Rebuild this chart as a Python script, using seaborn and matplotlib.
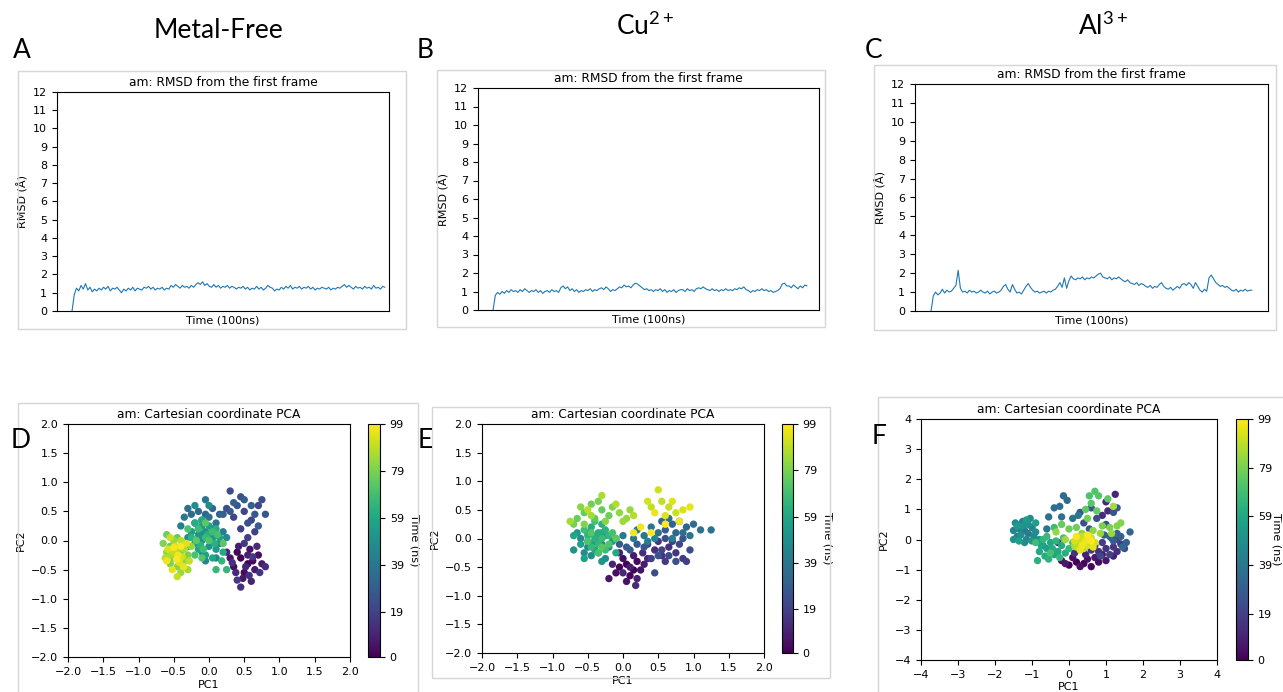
import numpy as np
import pandas as pd
import matplotlib
matplotlib.use("Agg")
import matplotlib.pyplot as plt
import seaborn as sns
from matplotlib.patches import Rectangle

# Style close to plain matplotlib output
sns.set_style("ticks", {"axes.edgecolor": "black", "xtick.color": "black",
                        "ytick.color": "black", "text.color": "black",
                        "axes.labelcolor": "black"})
plt.rcParams['font.family'] = ['DejaVu Sans']
plt.rcParams['mathtext.fontset'] = 'custom'
plt.rcParams['mathtext.rm'] = 'Lato'
plt.rcParams['xtick.major.size'] = 3.5
plt.rcParams['ytick.major.size'] = 3.5
plt.rcParams['axes.linewidth'] = 0.8

# ---------------- data ----------------
conditions = ["Metal-Free", "Cu$^{2+}$", "Al$^{3+}$"]
panel_letters = ["A", "B", "C", "D", "E", "F"]
cbar_ticks = [0, 19, 39, 59, 79, 99]

rmsd_free = [
    0.0, 0.9, 1.25, 1.1, 1.4, 1.2, 1.5, 1.15, 1.3, 1.05, 1.2, 1.1,
    1.25, 1.15, 1.3, 1.2, 1.35, 1.1, 1.25, 1.2, 1.3, 1.15,
    1.0, 1.2, 1.1, 1.25, 1.15, 1.3, 1.1, 1.25, 1.2, 1.15,
    1.3, 1.25, 1.35, 1.2, 1.3, 1.15, 1.25, 1.2, 1.3, 1.15, 1.25, 1.2,
    1.4, 1.3, 1.45, 1.35, 1.25, 1.4, 1.3, 1.35, 1.25, 1.4, 1.3, 1.45,
    1.55, 1.45, 1.6, 1.4, 1.5,
    1.35, 1.3, 1.45, 1.3, 1.4, 1.25, 1.35, 1.3, 1.4, 1.25, 1.35, 1.3, 1.2, 1.3, 1.25, 1.35, 1.2, 1.3,
    1.15, 1.25, 1.2, 1.35, 1.2, 1.3, 1.15, 1.25, 1.4, 1.3, 1.25,
    1.1, 1.2, 1.15,
    1.3, 1.2, 1.35, 1.25, 1.4, 1.2, 1.3, 1.25, 1.35, 1.2, 1.3, 1.25, 1.35, 1.2, 1.3, 1.15, 1.25, 1.2, 1.3, 1.25,
    1.2, 1.3, 1.15, 1.25, 1.2, 1.3, 1.25, 1.35, 1.45, 1.3, 1.4,
    1.3, 1.2, 1.35, 1.25, 1.3, 1.2, 1.35, 1.25, 1.3, 1.2, 1.4, 1.25, 1.3, 1.2, 1.35, 1.3]

rmsd_cu = [
    0.0, 0.8, 0.95, 0.85, 1.0, 0.9, 1.05, 0.95,
    1.1, 1.0, 1.05, 0.95, 1.1, 1.0, 1.15, 1.05, 0.95, 1.05, 1.0, 1.1, 0.95, 1.05, 0.9, 1.0, 1.05, 0.95, 1.1, 1.0, 1.05, 0.95,
    1.2, 1.3, 1.15, 1.25,
    1.05, 1.15, 1.0, 1.1, 0.95, 1.05, 1.0, 1.1, 1.05, 1.15, 1.0, 1.1, 1.05, 1.15,
    1.2, 1.1, 1.25, 1.15,
    1.0, 1.1, 1.05, 1.15,
    1.25, 1.2, 1.35, 1.25, 1.3, 1.2, 1.35,
    1.45, 1.4, 1.3,
    1.2, 1.1, 1.15, 1.05, 1.1, 1.0, 1.1, 1.05, 1.15, 1.0, 1.1, 0.95, 1.05, 1.0, 1.1, 0.95, 1.05, 1.1,
    1.1, 1.0, 1.15, 1.05, 1.1, 1.0, 1.15,
    1.2, 1.15, 1.25, 1.15,
    1.1, 1.05, 1.15, 1.05, 1.1, 1.0, 1.1, 1.05, 1.15, 1.05, 1.1, 1.05, 1.15, 1.1,
    1.2, 1.15, 1.25, 1.1,
    1.05, 0.95, 1.05, 1.0,
    1.1, 1.05, 1.15, 1.05, 1.1, 1.0, 1.05,
    0.95, 1.0, 1.05, 1.15,
    1.4, 1.45, 1.3,
    1.3, 1.2, 1.35, 1.25, 1.15, 1.3, 1.2, 1.35, 1.3]

rmsd_al = [
    0.0, 0.8, 1.0, 0.85, 0.95,
    1.15, 0.95, 1.1, 1.0, 1.05, 1.2,
    1.35, 2.15, 1.2,
    1.0, 1.05, 0.95, 1.1, 1.0, 1.05, 0.95, 1.0, 1.1, 1.0,
    0.95, 1.05, 0.9, 1.0, 1.05, 0.95, 1.0, 1.1,
    1.3, 1.4, 1.15,
    1.0, 1.4, 1.15,
    0.95, 1.0, 0.9, 1.1,
    1.3, 1.45, 1.25,
    1.1, 1.0, 1.05, 0.95, 1.0, 1.05, 0.95, 1.05, 1.0, 1.1, 1.15,
    1.3, 1.5, 1.25,
    1.75, 1.2, 1.6, 1.85,
    1.7, 1.65, 1.75, 1.7, 1.8, 1.65, 1.75, 1.7, 1.8, 1.75, 1.85,
    1.95, 2.0, 1.8,
    1.75, 1.7, 1.8, 1.65, 1.75, 1.7, 1.8, 1.7,
    1.6, 1.55, 1.65, 1.5,
    1.45, 1.4, 1.5, 1.35, 1.45, 1.4,
    1.3, 1.25, 1.35, 1.2, 1.3, 1.25,
    1.4, 1.5, 1.3,
    1.2, 1.15, 1.25, 1.1, 1.2, 1.3, 1.2,
    1.4, 1.45, 1.35, 1.5, 1.4, 1.2,
    1.5, 1.3, 1.1,
    1.0, 1.15, 1.05,
    1.75, 1.9, 1.7,
    1.5, 1.4, 1.3,
    1.35, 1.25, 1.3, 1.2,
    1.1, 1.05, 1.15, 1.0, 1.1, 1.05, 1.15, 1.05, 1.1, 1.1]

# PCA projections, listed in time order (frame 0 -> 99 ns)
pca_free = [
    # early frames
    (0.45, -0.30), (0.55, -0.40), (0.40, -0.20), (0.62, -0.35), (0.50, -0.55), (0.35, -0.45),
    (0.70, -0.25), (0.58, -0.15), (0.30, -0.30), (0.48, -0.65), (0.65, -0.50), (0.75, -0.40),
    (0.42, -0.10), (0.55, -0.25), (0.25, -0.20), (0.60, -0.70), (0.52, -0.45), (0.38, -0.55),
    (0.68, -0.10), (0.80, -0.45), (0.45, -0.80), (0.57, -0.60), (0.33, -0.38), (0.72, -0.55),
    (0.50, -0.05), (0.62, -0.28), (0.40, -0.68),
    (0.55, 0.05), (0.45, 0.20), (0.65, 0.15), (0.35, 0.40), (0.50, 0.50), (0.70, 0.60),
    (0.60, 0.35), (0.30, 0.85), (0.25, 0.55), (0.75, 0.70), (0.45, 0.75), (0.55, 0.30),
    (0.40, 0.60), (0.80, 0.45), (0.65, 0.45), (0.30, 0.50), (0.50, 0.70), (0.70, 0.25),
    (0.20, 0.45), (0.60, 0.60), (0.35, 0.65),
    (0.15, 0.45), (0.05, 0.55), (-0.05, 0.45), (-0.15, 0.50), (-0.25, 0.45), (-0.30, 0.55),
    (-0.10, 0.35), (0.00, 0.40), (-0.20, 0.30), (0.10, 0.30), (-0.05, 0.70), (-0.35, 0.40),
    (-0.15, 0.20), (0.05, 0.20), (-0.25, 0.15), (0.20, 0.15), (-0.40, 0.25), (0.15, -0.05),
    (0.10, -0.30), (-0.05, -0.35), (-0.10, 0.10), (0.05, 0.05), (-0.30, 0.05), (0.25, 0.05),
    (0.00, 0.60), (-0.20, 0.60), (-0.10, -0.20),
    (-0.10, 0.00), (-0.05, 0.15), (0.00, -0.10), (-0.15, 0.10), (-0.20, -0.05), (0.05, 0.05),
    (-0.10, 0.25), (0.10, -0.15), (-0.25, 0.15), (0.00, 0.25), (-0.05, -0.25), (0.15, 0.05),
    (-0.15, -0.15), (-0.30, -0.10), (0.05, -0.30), (0.20, -0.20), (-0.10, 0.35), (0.10, 0.20),
    (-0.20, 0.30), (-0.02, 0.10), (0.08, -0.05), (-0.12, -0.08), (-0.25, 0.05), (0.18, -0.35),
    (0.25, -0.50), (0.10, -0.50), (-0.05, 0.05), (-0.15, 0.20), (0.05, 0.15), (-0.08, -0.15),
    (0.12, 0.10), (-0.20, -0.25), (-0.30, 0.20), (0.00, 0.00), (-0.10, -0.30), (0.20, -0.05),
    (-0.05, 0.30), (-0.18, 0.00),
    # late frames
    (-0.35, -0.05), (-0.45, 0.05), (-0.55, -0.10), (-0.60, 0.10), (-0.40, -0.20), (-0.50, -0.30),
    (-0.30, -0.25), (-0.65, -0.05), (-0.55, -0.40), (-0.45, -0.45), (-0.35, -0.35), (-0.60, -0.20),
    (-0.25, -0.10), (-0.50, 0.00), (-0.40, -0.55), (-0.30, -0.50), (-0.45, -0.15), (-0.55, -0.25),
    (-0.35, -0.15), (-0.62, -0.30), (-0.40, 0.00), (-0.50, -0.20), (-0.28, -0.35), (-0.45, -0.62),
    (-0.55, 0.05), (-0.38, -0.28), (-0.48, -0.10), (-0.58, -0.15), (-0.32, -0.05), (-0.42, -0.38),
    (-0.52, -0.50), (-0.36, -0.45), (-0.60, -0.35), (-0.44, -0.25), (-0.50, -0.12), (-0.40, -0.10),
    (-0.46, -0.32)]

pca_cu = [
    (0.05, -0.45), (0.15, -0.55), (-0.05, -0.50), (0.10, -0.65), (0.20, -0.40), (0.00, -0.35),
    (-0.10, -0.60), (0.25, -0.55), (0.05, -0.75), (-0.20, -0.70), (0.15, -0.30), (0.30, -0.45),
    (-0.05, -0.25), (0.10, -0.50), (0.20, -0.70), (-0.15, -0.45), (0.35, -0.35), (0.00, -0.60),
    (0.18, -0.82), (0.28, -0.25),
    (0.45, -0.20), (0.55, -0.30), (0.65, -0.15), (0.75, -0.25), (0.50, -0.05), (0.85, -0.35),
    (0.60, -0.40), (0.40, -0.35), (0.70, -0.05), (0.90, -0.40), (0.55, -0.20), (0.80, -0.10),
    (0.35, -0.10), (0.65, -0.30), (0.45, -0.60), (0.95, -0.20), (0.60, 0.00), (0.75, -0.40),
    (0.50, -0.30), (0.30, -0.15), (0.85, 0.00), (0.10, -0.20), (-0.05, -0.10), (0.20, -0.10),
    (0.05, -0.15),
    (0.60, 0.15), (0.70, 0.25), (0.80, 0.30), (0.90, 0.20), (0.75, 0.10), (0.55, 0.30),
    (1.00, 0.25), (0.85, 0.10), (0.65, 0.35), (0.50, 0.10), (1.10, 0.15), (1.25, 0.15),
    (0.95, 0.05), (0.40, 0.20), (0.30, 0.05), (0.15, 0.00), (0.00, 0.05), (-0.10, 0.00),
    (0.20, 0.15), (0.35, -0.05), (0.70, 0.00), (0.45, 0.00),
    (-0.30, -0.10), (-0.40, -0.05), (-0.50, -0.15), (-0.35, -0.25), (-0.60, 0.00), (-0.45, -0.30),
    (-0.25, -0.35), (-0.55, -0.25), (-0.70, -0.20), (-0.20, -0.15), (-0.40, 0.05), (-0.30, -0.40),
    (-0.50, 0.10), (-0.65, 0.10), (-0.15, -0.05), (-0.45, -0.10), (-0.35, 0.00), (-0.55, -0.35),
    (-0.25, 0.05), (-0.60, -0.10), (-0.40, -0.20), (-0.30, 0.10), (-0.70, 0.05), (-0.10, -0.25),
    (-0.50, -0.05),
    (-0.35, 0.10), (-0.45, 0.20), (-0.30, 0.25), (-0.40, 0.00), (-0.25, 0.15), (-0.50, 0.05),
    (-0.35, -0.10), (-0.20, 0.05), (-0.45, -0.15), (-0.30, 0.00), (-0.55, 0.15), (-0.25, -0.20),
    (-0.40, 0.30), (-0.15, 0.10), (-0.35, -0.25), (-0.50, -0.05), (-0.20, -0.10), (-0.45, 0.10),
    (-0.30, -0.15), (-0.10, 0.00),
    (-0.40, 0.35), (-0.55, 0.45), (-0.30, 0.50), (-0.65, 0.35), (-0.20, 0.40), (-0.45, 0.60),
    (-0.70, 0.25), (-0.35, 0.65), (-0.15, 0.55), (-0.55, 0.25), (-0.25, 0.30), (-0.60, 0.55),
    (-0.05, 0.45), (0.05, 0.35), (0.10, 0.50), (0.00, 0.30), (-0.45, 0.40), (-0.75, 0.30),
    (-0.30, 0.75), (-0.10, 0.60), (0.15, 0.40), (-0.50, 0.50),
    (0.40, 0.55), (0.55, 0.65), (0.65, 0.55), (0.75, 0.45), (0.50, 0.85), (0.35, 0.65),
    (0.85, 0.50), (0.60, 0.40), (0.70, 0.65), (0.95, 0.55), (0.45, 0.45), (0.80, 0.30),
    (0.25, 0.20), (0.15, 0.10), (0.40, 0.10), (0.60, 0.25)]

pca_al = [
    (0.00, -0.85), (0.20, -0.75), (0.40, -0.80), (0.60, -0.90), (-0.20, -0.70), (0.80, -0.75),
    (0.10, -0.60), (0.50, -0.65), (0.30, -0.90), (1.00, -0.70), (-0.10, -0.80), (0.70, -0.60),
    (0.90, -0.50), (1.20, -0.55), (0.45, -0.50), (-0.30, -0.10), (1.25, 1.50), (1.00, 1.25),
    (1.05, 0.95), (0.90, 0.80), (1.30, -0.40), (0.15, -0.45),
    (0.80, -0.40), (1.00, -0.30), (1.20, -0.25), (0.60, -0.35), (1.40, -0.15), (0.90, -0.10),
    (0.70, -0.20), (1.10, -0.50), (1.30, 0.00), (0.50, -0.15), (1.50, -0.30), (0.85, -0.55),
    (1.15, 0.05), (0.40, 0.55), (0.75, 0.70), (1.00, 0.50), (1.20, 0.90), (0.60, 1.05),
    (0.30, 0.90), (1.30, 1.05), (0.55, 0.35), (0.95, 0.15),
    (1.20, -0.05), (1.40, 0.10), (1.55, -0.10), (1.30, 0.20), (1.65, 0.25), (1.10, 0.10),
    (1.45, -0.25), (-0.15, 1.45), (-0.05, 1.30), (-0.40, 1.05), (-0.25, 1.10), (-0.55, 0.75),
    (-0.20, 0.75), (0.10, 0.70), (-0.60, 0.35), (0.25, 0.80),
    (-1.20, 0.30), (-1.30, 0.50), (-1.10, 0.20), (-1.40, 0.10), (-1.25, 0.60), (-1.00, 0.40),
    (-1.50, 0.30), (-1.15, 0.00), (-1.35, 0.35), (-0.95, 0.10), (-1.45, 0.55), (-1.05, 0.70),
    (-1.20, -0.10), (-0.90, 0.25), (-1.30, 0.15), (-1.10, 0.50), (-1.50, 0.00), (-0.80, 0.00),
    (-1.25, 0.45), (-1.00, -0.05), (-0.70, -0.20), (-1.40, 0.45), (-1.15, 0.65), (-0.90, 0.55),
    (-1.35, -0.05),
    (-0.60, -0.30), (-0.40, -0.50), (-0.75, -0.20), (-0.50, -0.10), (-0.30, -0.40), (-0.80, -0.40),
    (-0.20, -0.20), (-0.65, -0.55), (-0.45, -0.30), (-0.10, -0.45), (-0.85, -0.70), (-0.55, -0.65),
    (-0.35, -0.05), (-0.70, 0.00), (0.00, -0.30), (-0.25, -0.60), (-0.60, 0.10), (-0.40, 0.40),
    (-0.90, -0.10), (-0.15, 0.05), (0.10, -0.10), (-0.50, -0.45),
    (0.55, 1.45), (0.70, 1.60), (0.80, 1.45), (0.60, 1.20), (1.05, 1.35), (0.45, 1.00),
    (0.75, 0.95), (-0.20, 0.50), (0.00, 0.35), (0.20, 0.40), (0.50, 0.70), (0.90, 0.45),
    (1.10, 0.40), (1.30, 0.45), (1.40, 0.55), (0.35, 0.20), (0.65, 0.30), (-0.35, 0.25),
    (0.85, 0.20), (1.15, 0.20), (0.15, -0.20), (-0.10, 0.00), (1.20, 1.10),
    (0.30, -0.10), (0.45, 0.00), (0.55, -0.15), (0.20, -0.25), (0.40, -0.30), (0.60, 0.05),
    (0.35, 0.10), (0.25, 0.00), (0.70, -0.10), (0.50, -0.20), (0.15, -0.05), (0.40, -0.15),
    (0.55, 0.10), (0.65, -0.25), (0.30, -0.35), (0.45, -0.05), (0.35, -0.20), (0.20, 0.10),
    (0.50, 0.15), (0.60, -0.05)]

# ---------------- layout (pixels of a 1283x692 canvas) ----------------
W, H = 1283, 692
fig = plt.figure(figsize=(W / 100, H / 100), dpi=100)


def px_axes(l, r, t, b):
    return fig.add_axes([l / W, 1 - b / H, (r - l) / W, (b - t) / H])


def px_frame(l, r, t, b):
    fig.add_artist(Rectangle((l / W, 1 - b / H), (r - l) / W, (b - t) / H,
                             transform=fig.transFigure, fill=False,
                             edgecolor='#d6d6d6', linewidth=1))


def draw_rmsd(ax, vals, xlim):
    df = pd.DataFrame({'time': np.linspace(0, 100, len(vals)), 'rmsd': vals})
    sns.lineplot(data=df, x='time', y='rmsd', ax=ax, color='#1f77b4', linewidth=0.8)
    ax.set_xlim(*xlim)
    ax.set_ylim(0, 12)
    ax.set_yticks(range(13))
    ax.set_xticks([])
    ax.tick_params(labelsize=8, width=0.8)
    ax.set_title('am: RMSD from the first frame', fontsize=8.8, pad=4)
    ax.set_xlabel('Time (100ns)', fontsize=8, labelpad=3)
    ax.set_ylabel('RMSD (Å)', fontsize=8, labelpad=3)


def draw_pca(ax, cax, points, lim, step, label_x=None):
    df = pd.DataFrame(points, columns=['PC1', 'PC2'])
    df['time'] = np.linspace(0, 99, len(df))
    sns.scatterplot(data=df, x='PC1', y='PC2', hue='time', palette='viridis',
                    hue_norm=(0, 99), s=28, linewidth=0, legend=False, ax=ax)
    ticks = np.arange(-lim, lim + step / 2, step)
    ax.set_xlim(-lim, lim)
    ax.set_ylim(-lim, lim)
    ax.set_xticks(ticks)
    ax.set_yticks(ticks)
    if step < 1:
        ax.set_xticklabels([f"{v:.1f}".replace('-', '\u2212') for v in ticks])
        ax.set_yticklabels([f"{v:.1f}".replace('-', '\u2212') for v in ticks])
    ax.tick_params(labelsize=8, width=0.8)
    ax.set_title('am: Cartesian coordinate PCA', fontsize=8.8, pad=4)
    ax.set_xlabel('PC1', fontsize=8, labelpad=2)
    ax.set_ylabel('PC2', fontsize=8)
    sm = plt.cm.ScalarMappable(cmap='viridis', norm=plt.Normalize(0, 99))
    cb = fig.colorbar(sm, cax=cax, ticks=cbar_ticks)
    cb.ax.tick_params(labelsize=8, width=0.8)
    cb.outline.set_linewidth(0.8)
    cb.set_label('Time (ns)', rotation=270, fontsize=8, labelpad=11)
    if label_x is not None:
        # squeeze the label in at the right edge of the canvas
        cb.ax.yaxis.label.set_va('center')
        cb.ax.yaxis.set_label_coords(label_x, 0.5)


# light borders around each sub-figure
px_frame(18, 406, 71, 329)
px_frame(437, 825, 70, 327)
px_frame(874, 1276, 65, 330)
px_frame(18, 418, 403, 700)
px_frame(432, 830, 407, 678)
px_frame(878, 1290, 397, 700)

draw_rmsd(px_axes(57, 389, 92, 311), rmsd_free, (-4.8, 101.3))
draw_rmsd(px_axes(478, 819, 88, 310), rmsd_cu, (-4.8, 103.8))
draw_rmsd(px_axes(915, 1268, 84, 311), rmsd_al, (-5.0, 105.0))

draw_pca(px_axes(68, 350, 424, 657), px_axes(368, 380, 424, 657), pca_free, 2.0, 0.5)
draw_pca(px_axes(482, 764, 424, 653), px_axes(782, 793, 424, 653), pca_cu, 2.0, 0.5)
draw_pca(px_axes(921, 1217, 419, 660), px_axes(1236, 1248, 419, 660), pca_al, 4, 1,
         label_x=3.35)

# column headers and panel letters
for label, (x, y) in zip(conditions, [(218, 30), (645, 26), (1103, 26)]):
    fig.text(x / W, 1 - y / H, label, fontsize=19, family='Lato',
             ha='center', va='center')
letter_pos = [(22, 50), (425, 50), (874, 50), (21, 440), (425, 440), (879, 436)]
for letter, (x, y) in zip(panel_letters, letter_pos):
    fig.text(x / W, 1 - y / H, letter, fontsize=19, family='Lato',
             ha='center', va='center')

fig.savefig('out.png', dpi=100)
